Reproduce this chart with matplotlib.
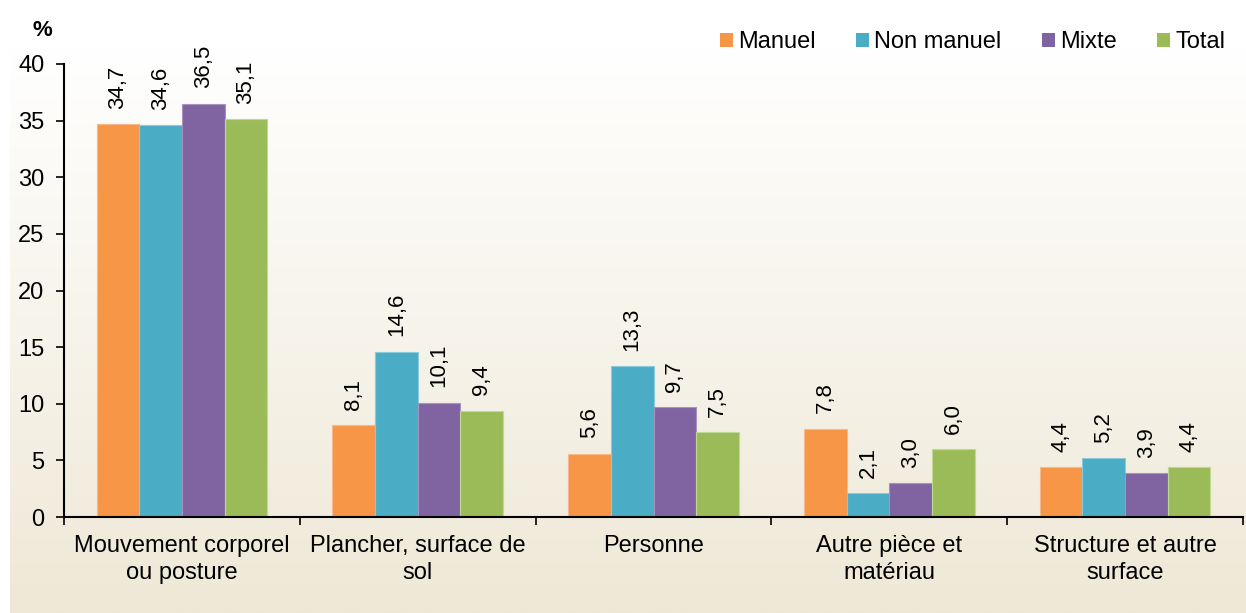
import matplotlib
matplotlib.use("Agg")
import matplotlib.pyplot as plt
import numpy as np
from matplotlib.patches import Patch
from matplotlib.ticker import FixedLocator, NullFormatter

plt.rcParams['font.family'] = ['Liberation Sans', 'DejaVu Sans']

categories = ["Mouvement corporel\nou posture", "Plancher, surface de\nsol", "Personne",
              "Autre pièce et\nmatériau", "Structure et autre\nsurface"]
series_names = ["Manuel", "Non manuel", "Mixte", "Total"]
manuel = [34.7, 8.1, 5.6, 7.8, 4.4]
non_manuel = [34.6, 14.6, 13.3, 2.1, 5.2]
mixte = [36.5, 10.1, 9.7, 3.0, 3.9]
total = [35.1, 9.4, 7.5, 6.0, 4.4]
yticks = [0, 5, 10, 15, 20, 25, 30, 35, 40]

colors = ["#F79646", "#4BACC6", "#8064A2", "#9BBB59"]
edges = ["#FAB88A", "#8CCADB", "#A892C2", "#C0D796"]

W, H = 1246, 613
fig = plt.figure(figsize=(W / 100, H / 100), dpi=100)

# gradient background panel
bg = fig.add_axes([10 / W, 0, 1 - 10 / W, 1 - 48 / H])
bg.set_axis_off()
top = np.array([1.0, 1.0, 1.0])
bot = np.array([0xEE, 0xE8, 0xD6]) / 255
t = np.linspace(0, 1, 256)[:, None]
grad = (top[None, :] * (1 - t) + bot[None, :] * t)[:, None, :]
bg.imshow(grad, aspect='auto', extent=[0, 1, 0, 1], origin='upper')
bg.set_xlim(0, 1)
bg.set_ylim(0, 1)

ax = fig.add_axes([64 / W, 1 - 517 / H, (1243 - 64) / W, (517 - 64) / H])
ax.patch.set_alpha(0)

x = np.arange(len(categories))
bw = 0.181
data = [manuel, non_manuel, mixte, total]
for i, (vals, c, e, name) in enumerate(zip(data, colors, edges, series_names)):
    pos = x + (i - 1.5) * bw
    bars = ax.bar(pos, vals, width=bw, color=c, edgecolor=e, linewidth=0.8, label=name, zorder=2)
    for b, v in zip(bars, vals):
        ax.annotate(f"{v:.1f}".replace('.', ','),
                    (b.get_x() + b.get_width() / 2, b.get_height()),
                    xytext=(0, 11), textcoords='offset points',
                    rotation=90, ha='center', va='bottom', fontsize=16)

ax.set_xlim(-0.5, len(categories) - 0.5)
ax.set_ylim(0, 40)
ax.set_yticks(yticks)
ax.set_yticklabels([str(v) for v in yticks])
ax.tick_params(axis='y', direction='out', length=6, width=1.2, pad=8, labelsize=17)

ax.xaxis.set_major_locator(FixedLocator(np.arange(-0.5, len(categories), 1.0)))
ax.xaxis.set_major_formatter(NullFormatter())
ax.xaxis.set_minor_locator(FixedLocator(x))
ax.set_xticklabels(categories, minor=True, fontsize=17, linespacing=1.31)
ax.tick_params(axis='x', which='major', direction='out', length=6, width=1.2)
ax.tick_params(axis='x', which='minor', length=0, pad=13)

for s in ['top', 'right']:
    ax.spines[s].set_visible(False)
for s in ['left', 'bottom']:
    ax.spines[s].set_linewidth(1.5)
    ax.spines[s].set_color('black')

fig.text(42 / W, 1 - 30 / H, "%", fontsize=16, fontweight='bold', ha='center', va='center')

handles = [Patch(facecolor=c, edgecolor='none') for c in colors]
fig.legend(handles, series_names, loc='center right', bbox_to_anchor=(1225 / W, 1 - 42 / H),
           ncol=4, frameon=False, fontsize=17, handlelength=0.55, handleheight=0.55,
           handletextpad=0.22, columnspacing=1.7, borderaxespad=0, borderpad=0)

fig.savefig("out.png", dpi=100)
